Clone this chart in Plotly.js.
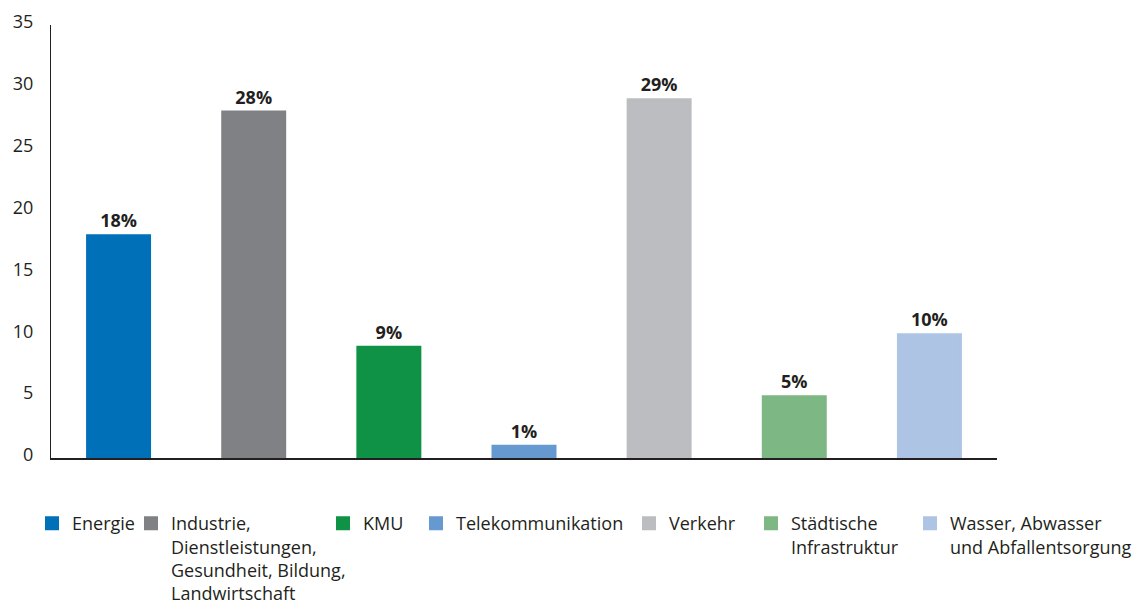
<!DOCTYPE html>
<html>
<head>
<meta charset="utf-8">
<script src="https://cdn.plot.ly/plotly-3.0.1.min.js"></script>
<style>
  html, body { margin: 0; padding: 0; background: #ffffff; }
  #chart { width: 1136px; height: 604px; }
</style>
</head>
<body>
<div id="chart"></div>
<script>
// Sector shares (in %)
const categories = ['Energie', 'Industrie', 'KMU', 'Telekommunikation', 'Verkehr', 'Städtische Infrastruktur', 'Wasser'];
const legendLabels = [
  'Energie',
  'Industrie,<br>Dienstleistungen,<br>Gesundheit, Bildung,<br>Landwirtschaft',
  'KMU',
  'Telekommunikation',
  'Verkehr',
  'Städtische<br>Infrastruktur',
  'Wasser, Abwasser<br>und Abfallentsorgung'
];
const shares = [18, 28, 9, 1, 29, 5, 10];
const yTicks = [0, 5, 10, 15, 20, 25, 30, 35];

// Styling
const barColors = ['#0070b8', '#808184', '#0f9245', '#6699d0', '#bcbdc0', '#7db783', '#aec4e4'];
const ink = '#231f20';
const fontFamily = '"Open Sans", "Noto Sans", sans-serif';

// Plot area in pixels (used to place the separate legend blocks)
const plotLeft = 51, plotRight = 997, plotTop = 25, plotBottom = 458;
const plotW = plotRight - plotLeft, plotH = plotBottom - plotTop;
const legendTextStart = [72, 171, 363, 456, 669, 791, 950];
const legendTop = 505;

const traces = categories.map((cat, i) => ({
  type: 'bar',
  x: [cat],
  y: [shares[i]],
  name: legendLabels[i],
  legend: i === 0 ? 'legend' : 'legend' + (i + 1),
  marker: { color: barColors[i], line: { color: barColors[i], width: 2 } },
  text: [shares[i] + '%'],
  textposition: 'outside',
  textfont: { family: fontFamily, size: 18, color: ink, weight: 'bold' },
  cliponaxis: false,
  hoverinfo: 'skip'
}));

const layout = {
  width: 1136,
  height: 604,
  margin: { l: plotLeft, r: 1136 - plotRight, t: plotTop, b: 604 - plotBottom, pad: 0, autoexpand: false },
  paper_bgcolor: '#ffffff',
  plot_bgcolor: '#ffffff',
  font: { family: fontFamily, size: 18, color: ink },
  barmode: 'overlay',
  bargap: 0.534,
  showlegend: true,
  xaxis: {
    type: 'category',
    categoryorder: 'array',
    categoryarray: categories,
    range: [-0.5, categories.length - 0.5],
    showticklabels: false,
    ticks: '',
    showgrid: false,
    zeroline: false,
    showline: true,
    linecolor: ink,
    linewidth: 1.5,
    fixedrange: true
  },
  yaxis: {
    range: [0, 35],
    tickvals: yTicks,
    ticktext: yTicks.map(String),
    ticks: '',
    showgrid: false,
    zeroline: false,
    showline: true,
    linecolor: ink,
    linewidth: 1,
    ticklabelstandoff: 13,
    ticklabelshift: -3,
    tickfont: { family: fontFamily, size: 18, color: ink },
    fixedrange: true
  }
};

// One legend block per sector, laid out in a row below the chart
categories.forEach((cat, i) => {
  const key = i === 0 ? 'legend' : 'legend' + (i + 1);
  layout[key] = {
    x: (legendTextStart[i] - 40 - plotLeft) / plotW,
    y: (plotBottom - legendTop) / plotH,
    xanchor: 'left',
    yanchor: 'top',
    orientation: 'v',
    valign: 'top',
    bgcolor: 'rgba(0,0,0,0)',
    borderwidth: 0,
    font: { family: fontFamily, size: 18, color: ink },
    itemclick: false,
    itemdoubleclick: false
  };
});

Plotly.newPlot('chart', traces, layout, { displayModeBar: false, staticPlot: true });
</script>
</body>
</html>
